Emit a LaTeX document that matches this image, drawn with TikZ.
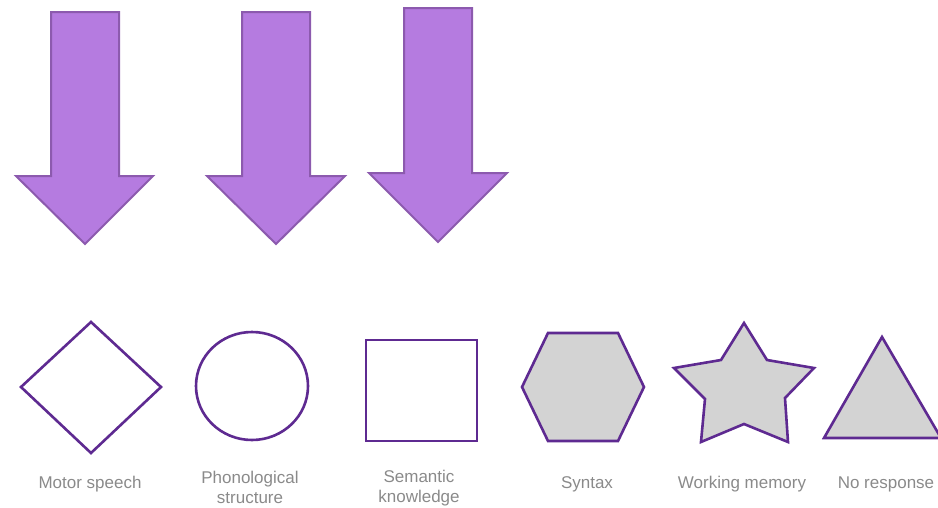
\documentclass[tikz,border=0pt]{standalone}
\usepackage{fontspec}
\setmainfont{Liberation Sans}
\definecolor{arrowfill}{HTML}{B57BE0}
\definecolor{arrowline}{HTML}{8C5AAE}
\definecolor{shapeline}{HTML}{5E2A91}
\definecolor{shapegray}{HTML}{D3D3D3}
\definecolor{labelgray}{HTML}{8A8A8A}
\tikzset{
  bigarrow/.style={fill=arrowfill, draw=arrowline, line width=2pt, line join=miter},
  outline/.style={draw=shapeline, line width=2.6pt, line join=miter, fill=white},
  grayshape/.style={draw=shapeline, line width=2.6pt, line join=miter, fill=shapegray},
  lbl/.style={text=labelgray, font=\fontsize{17}{20}\selectfont, align=center, inner sep=0pt}
}
\begin{document}
\begin{tikzpicture}[x=1pt,y=-1pt]
\useasboundingbox (0,0) rectangle (938,507);
\begin{scope}
\clip (0,0) rectangle (938,507);
% arrows
\draw[bigarrow] (51,12) -- (119,12) -- (119,176) -- (153,176) -- (85,244) -- (16,176) -- (51,176) -- cycle;
\draw[bigarrow] (242,12) -- (310,12) -- (310,176) -- (345,176) -- (276,244) -- (207,176) -- (242,176) -- cycle;
\draw[bigarrow] (404,8) -- (472,8) -- (472,173) -- (507,173) -- (438,242) -- (369,173) -- (404,173) -- cycle;
% shapes
\draw[outline] (91,322) -- (161,387) -- (91,453) -- (21,387) -- cycle;
\draw[outline] (252,386) ellipse [x radius=56, y radius=54];
\draw[outline] (366,340) rectangle (477,441);
\draw[grayshape] (522,387) -- (548,333) -- (618,333) -- (644,387) -- (618,441) -- (548,441) -- cycle;
\draw[grayshape] (744,323) -- (767,360) -- (814,368) -- (785,398) -- (788,442) -- (744,424) -- (701,442) -- (705,399) -- (674,368) -- (721,360) -- cycle;
\draw[grayshape] (882,337) -- (941,438) -- (824,438) -- cycle;
\end{scope}
% labels
\node[lbl] (l1) at (90,484) {Motor speech};
\node[lbl] (l2) at (250,487) {Phonological\\structure};
\node[lbl] (l3) at (419,488) {Semantic\\knowledge};
\node[lbl] (l4) at (587,484) {Syntax};
\node[lbl] (l5) at (742,484) {Working memory};
\node[lbl] (l6) at (886,484) {No response};
\end{tikzpicture}
\end{document}
